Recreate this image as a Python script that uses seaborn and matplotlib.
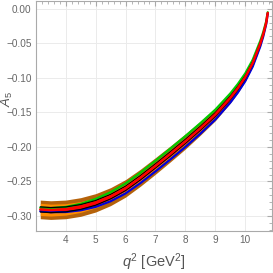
import matplotlib
matplotlib.use("Agg")
import matplotlib.pyplot as plt
import numpy as np
import pandas as pd
import seaborn as sns
from matplotlib.ticker import MultipleLocator

# q^2 grid and central value of A_5
q2 = [3.15, 3.5, 4.0, 4.5, 5.0, 5.5, 6.0, 6.5, 7.0, 7.5, 8.0, 8.5, 9.0, 9.5,
      9.75, 10.0, 10.25, 10.5, 10.6, 10.7, 10.75]
a5_central = [-0.2905, -0.2915, -0.2905, -0.2870, -0.2810, -0.2720, -0.2600,
              -0.2445, -0.2275, -0.2100, -0.1920, -0.1730, -0.1530, -0.1290,
              -0.1150, -0.0990, -0.0785, -0.0505, -0.0370, -0.0200, -0.0060]

# half widths of the uncertainty bands
brown_hw = [0.0135, 0.0135, 0.0135, 0.0135, 0.0133, 0.013, 0.0127, 0.0123,
            0.012, 0.0115, 0.011, 0.010, 0.009, 0.0075, 0.0068, 0.006, 0.005,
            0.004, 0.003, 0.002, 0.001]
orange_hw = [0.0088, 0.0086, 0.0083, 0.0078, 0.0072, 0.0066, 0.006, 0.0055,
             0.005, 0.0045, 0.004, 0.0035, 0.003, 0.0025, 0.0022, 0.002,
             0.0017, 0.0013, 0.001, 0.0006, 0.0003]
black_hw = [0.0037, 0.0037, 0.0036, 0.0035, 0.0034, 0.0033, 0.0032, 0.0031,
            0.003, 0.003, 0.0029, 0.0028, 0.0027, 0.0025, 0.0024, 0.0022,
            0.002, 0.0017, 0.0014, 0.001, 0.0006]
# offsets of the green (upper) and blue (lower) curves from the centre
green_off = [0.0025, 0.0028, 0.0036, 0.0046, 0.0056, 0.0064, 0.007, 0.0073,
             0.0075, 0.0076, 0.0076, 0.0074, 0.007, 0.0064, 0.006, 0.0055,
             0.0048, 0.0039, 0.0031, 0.002, 0.001]
blue_off = [0.0025, 0.0029, 0.0038, 0.0048, 0.0059, 0.0067, 0.0073, 0.0077,
            0.0079, 0.008, 0.008, 0.0078, 0.0074, 0.0068, 0.0064, 0.0058,
            0.0051, 0.0042, 0.0033, 0.0021, 0.0011]

df = pd.DataFrame({"q2": q2, "c": a5_central, "brown": brown_hw,
                   "orange": orange_hw, "black": black_hw,
                   "green": green_off, "blue": blue_off})

sns.set_style("white")
plt.rcParams["font.family"] = ["Liberation Sans Narrow", "Liberation Sans", "DejaVu Sans"]
plt.rcParams["mathtext.fontset"] = "custom"
plt.rcParams["mathtext.rm"] = "Liberation Sans"
plt.rcParams["mathtext.it"] = "Liberation Sans:italic"

fig = plt.figure(figsize=(2.73, 2.73), dpi=100)
ax = fig.add_axes([0.131, 0.154, 0.865, 0.843])

ax.fill_between(df.q2, df.c - df.brown, df.c + df.brown, color="#B5620A", lw=0)
ax.fill_between(df.q2, df.c - df.orange, df.c + df.orange, color="#FF8C00", lw=0)

df["g"] = df.c + df.green
df["b"] = df.c - df.blue
sns.lineplot(data=df, x="q2", y="g", color="#00CC00", lw=1.6, ax=ax)
sns.lineplot(data=df, x="q2", y="b", color="#0000DD", lw=1.6, ax=ax)

ax.fill_between(df.q2, df.c - df.black, df.c + df.black, color="red", lw=0)
df["k_up"] = df.c + df.black
df["k_dn"] = df.c - df.black
sns.lineplot(data=df, x="q2", y="k_up", color="black", lw=0.9, ax=ax)
sns.lineplot(data=df, x="q2", y="k_dn", color="black", lw=0.9, ax=ax)
sns.lineplot(data=df, x="q2", y="c", color="red", lw=1.8, ax=ax)

ax.set_xlim(3.0, 10.89)
ax.set_ylim(-0.3217, 0.0115)

ax.xaxis.set_minor_locator(MultipleLocator(0.2))
ax.yaxis.set_minor_locator(MultipleLocator(0.01))
ax.set_xticks([4, 5, 6, 7, 8, 9, 10])
ax.set_xticklabels(["4", "5", "6", "7", "8", "9", "10"])
ax.set_yticks([0.0, -0.05, -0.10, -0.15, -0.20, -0.25, -0.30])
ax.set_yticklabels(["0.00", "\u22120.05", "\u22120.10", "\u22120.15",
                    "\u22120.20", "\u22120.25", "\u22120.30"])

ax.grid(True, which="major", color="#ebebeb", lw=0.7)
ax.set_axisbelow(True)
for s in ax.spines.values():
    s.set_color("#aaaaaa")
    s.set_linewidth(0.8)
ax.tick_params(which="both", direction="in", colors="#aaaaaa", labelcolor="#666666",
               top=True, right=True, labelsize=7.2, pad=3)
ax.tick_params(which="major", length=3.5)
ax.tick_params(which="minor", length=2)

ax.set_xlabel("$q^2$ [GeV$^2$]", color="#555555", fontsize=10.5)
ax.xaxis.set_label_coords(0.5, -0.09)
ax.set_ylabel("$A_5$", color="#555555", fontsize=9.5, va="center", ha="center")
ax.yaxis.set_label_coords(-0.122, 0.575)

fig.savefig("out.png", dpi=100)
